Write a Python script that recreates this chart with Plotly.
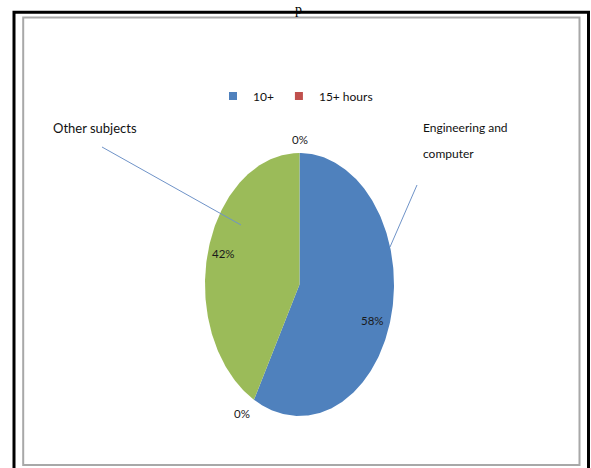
import numpy as np
import plotly.graph_objects as go

# ---- data ----
categories = ["10+", "15+ hours", "", " "]
values = [58, 0, 42, 0]
pct_labels = ["58%", "0%", "42%", "0%"]
legend_categories = ["10+", "15+ hours"]
callout_texts = ["Other subjects", "Engineering and", "computer"]
title_fragment = "p"

colors = ["#4F81BD", "#C0504D", "#9BBB59", "#8064A2"]

# ---- geometry (pixel space, axes mapped 1:1 to pixels) ----
W, H = 591, 468
CX, CY, RX, RY = 299.5, 284.5, 94.5, 131.5
# small label nudges (px, screen coords: +x right, +y down)
label_nudge = [(0, 10), (-7, 0), (-3, -5), (0, 2)]


def pt(theta, f=1.0):
    return CX + f * RX * np.sin(theta), CY - f * RY * np.cos(theta)


fig = go.Figure()

total = float(sum(values))
start = 0.0
label_pos = []
for cat, v, col in zip(categories, values, colors):
    sweep = 2 * np.pi * v / total
    th = np.linspace(start, start + sweep, max(2, int(v * 4) + 2))
    ax, ay = pt(th)
    xs = [CX] + list(ax) + [CX]
    ys = [CY] + list(ay) + [CY]
    if v > 0:
        fig.add_trace(go.Scatter(x=xs, y=ys, mode="lines", fill="toself",
                                 fillcolor=col, line=dict(width=0, color=col),
                                 name=cat, showlegend=False, hoverinfo="name"))
        label_pos.append(pt(start + sweep / 2, 0.8))
    else:
        label_pos.append(pt(start, 1.12))
    start += sweep

# legend entries
for cat in legend_categories:
    i = categories.index(cat)
    fig.add_trace(go.Scatter(x=[None], y=[None], mode="markers", name=cat,
                             marker=dict(symbol="square", size=8, color=colors[i])))

annotations = []
for (lx, ly), txt, (dx, dy) in zip(label_pos, pct_labels, label_nudge):
    annotations.append(dict(x=lx, y=ly, xref="x", yref="y", text=txt, showarrow=False,
                            xshift=dx, yshift=-dy,
                            font=dict(family="Lato", size=11.5, color="#1a1a1a")))

annotations += [
    dict(x=51, y=128, xref="x", yref="y", text=callout_texts[0], showarrow=False,
         xanchor="left", font=dict(family="Lato", size=13, color="#111")),
    dict(x=421, y=127, xref="x", yref="y", text=callout_texts[1], showarrow=False,
         xanchor="left", font=dict(family="Lato", size=12, color="#111")),
    dict(x=421, y=153, xref="x", yref="y", text=callout_texts[2], showarrow=False,
         xanchor="left", font=dict(family="Lato", size=12, color="#111")),
    dict(x=298, y=0, xref="x", yref="y", text=title_fragment,
         showarrow=False, yanchor="top",
         font=dict(family="Liberation Serif", size=14, color="#000")),
]

shapes = [
    dict(type="rect", xref="x", yref="y", x0=14, x1=588.5, y0=12.3, y1=495,
         line=dict(color="#000", width=3)),
    dict(type="rect", xref="x", yref="y", x0=23.2, x1=579.5, y0=17.5, y1=465,
         line=dict(color="#A8A8A8", width=2)),
    dict(type="line", xref="x", yref="y", x0=102, y0=147, x1=241, y1=225,
         line=dict(color="#6F93C8", width=1)),
    dict(type="line", xref="x", yref="y", x0=417, y0=185, x1=390, y1=247,
         line=dict(color="#6F93C8", width=1)),
]

fig.update_layout(
    width=W, height=H, margin=dict(l=0, r=0, t=0, b=0),
    paper_bgcolor="white", plot_bgcolor="white",
    xaxis=dict(range=[0, W], visible=False, fixedrange=True),
    yaxis=dict(range=[H, 0], visible=False, fixedrange=True),
    showlegend=True,
    legend=dict(orientation="h", x=0.5, xanchor="center", y=1 - 96 / H, yanchor="middle",
                font=dict(family="Lato", size=12, color="#111"), itemwidth=30,
                bgcolor="rgba(0,0,0,0)"),
    annotations=annotations, shapes=shapes,
)

fig.write_html("out.html", config={"displayModeBar": False},
               post_script="document.body.style.margin='0px';")
